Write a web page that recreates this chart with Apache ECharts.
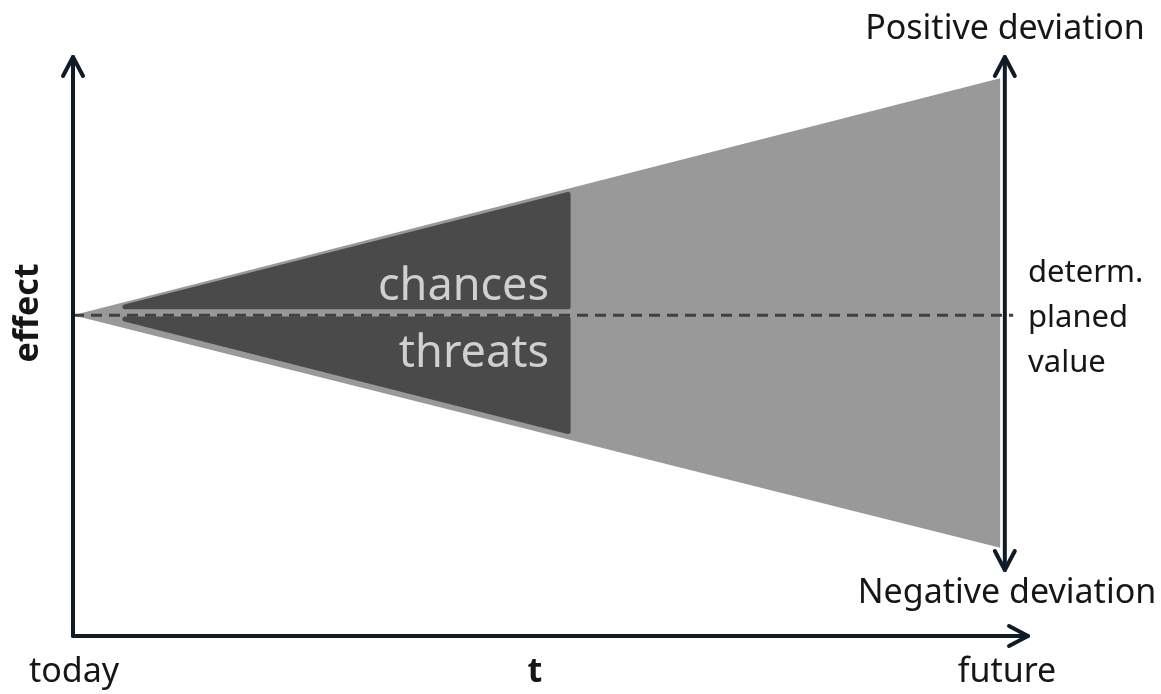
<!DOCTYPE html>
<html><head><meta charset="utf-8">
<script src="https://cdn.jsdelivr.net/npm/echarts@6/dist/echarts.min.js"></script>
<style>html,body{margin:0;padding:0;background:#fff}#c{width:1161px;height:694px}</style>
</head><body><div id="c"></div><script>
// axis ranges (t = time, effect)
const tRange = [0, 10.3];
const effectRange = [-13.66, 11];
// shapes [t, effect]
const coneShape = [[0, 0], [10, 10.1], [10, -9.9]];
const chancesShape = [[0.56, 0.36], [5.34, 5.15], [5.34, 0.36]];
const threatsShape = [[0.56, -0.16], [5.34, -0.16], [5.34, -4.95]];
const planLine = [[0, 0], [10.14, 0]];
// arrows: [t1, e1, t2, e2, headAtStart, headAtEnd]
const arrows = [
  [0, -13.66, 0, 11, 0, 1],
  [0, -13.66, 10.3, -13.66, 0, 1],
  [10.05, -10.85, 10.05, 11, 1, 1]
];
const shapeLabels = ['chances', 'threats'];
const sideLabels = ['determ.', 'planed', 'value'];
const xLabels = ['today', 't', 'future'];
const yLabel = 'effect';
const deviationLabels = ['Positive deviation', 'Negative deviation'];

const chart = echarts.init(document.getElementById('c'), null, {renderer: 'canvas'});
const shapes = [
  {pts: coneShape, color: '#999999', stroke: 0},
  {pts: chancesShape, color: '#4a4a4a', stroke: 5},
  {pts: threatsShape, color: '#4a4a4a', stroke: 5}
];
const axisColor = '#0f1b26';
const font = '"Noto Sans", "Open Sans", sans-serif';
const txt = '#161616';

chart.setOption({
  animation: false,
  grid: {left: 73, right: 1161 - 1028, top: 57, bottom: 58},
  xAxis: {type: 'value', min: tRange[0], max: tRange[1], show: false},
  yAxis: {type: 'value', min: effectRange[0], max: effectRange[1], show: false},
  series: [
    {
      type: 'custom', z: 1,
      data: shapes.map((s, i) => [i]),
      renderItem: function (params, api) {
        const s = shapes[params.dataIndex];
        const pts = s.pts.map(p => api.coord(p));
        return {
          type: 'polygon',
          shape: {points: pts},
          style: {fill: s.color, stroke: s.stroke ? s.color : null, lineWidth: s.stroke, lineJoin: 'round'}
        };
      }
    },
    {
      type: 'line', z: 3, symbol: 'none', data: planLine,
      lineStyle: {color: '#404040', width: 2.8, type: [11, 7]}
    },
    {
      type: 'custom', z: 4,
      data: arrows,
      renderItem: function (params, api) {
        const a = arrows[params.dataIndex];
        const p1 = api.coord([a[0], a[1]]);
        const p2 = api.coord([a[2], a[3]]);
        const dx = p2[0] - p1[0], dy = p2[1] - p1[1];
        const L = Math.hypot(dx, dy);
        const ux = dx / L, uy = dy / L, nx = -uy, ny = ux;
        const len = 19, w = 10;
        const st = {stroke: axisColor, lineWidth: 4, lineCap: 'round', lineJoin: 'round', fill: null};
        const children = [{type: 'line', shape: {x1: p1[0], y1: p1[1], x2: p2[0], y2: p2[1]}, style: st}];
        function head(tip, sx, sy) {
          children.push({type: 'polyline', shape: {points: [
            [tip[0] - sx * len + nx * w, tip[1] - sy * len + ny * w],
            tip,
            [tip[0] - sx * len - nx * w, tip[1] - sy * len - ny * w]
          ]}, style: st});
        }
        if (a[5]) head(p2, ux, uy);
        if (a[4]) head(p1, -ux, -uy);
        return {type: 'group', children: children};
      }
    }
  ],
  graphic: [
    {type: 'text', z: 10, style: {text: shapeLabels[0], x: 549, y: 287, align: 'right', verticalAlign: 'middle', font: '45px ' + font, fill: '#d0d0d0'}},
    {type: 'text', z: 10, style: {text: shapeLabels[1], x: 549, y: 354, align: 'right', verticalAlign: 'middle', font: '45px ' + font, fill: '#d0d0d0'}},
    {type: 'text', style: {text: deviationLabels[0], x: 1005, y: 29, align: 'center', verticalAlign: 'middle', font: '34px ' + font, fill: txt}},
    {type: 'text', style: {text: deviationLabels[1], x: 1007, y: 593, align: 'center', verticalAlign: 'middle', font: '34px ' + font, fill: txt}},
    {type: 'text', style: {text: sideLabels[0], x: 1028, y: 273, align: 'left', verticalAlign: 'middle', font: '31px ' + font, fill: txt}},
    {type: 'text', style: {text: sideLabels[1], x: 1028, y: 318, align: 'left', verticalAlign: 'middle', font: '31px ' + font, fill: txt}},
    {type: 'text', style: {text: sideLabels[2], x: 1028, y: 363, align: 'left', verticalAlign: 'middle', font: '31px ' + font, fill: txt}},
    {type: 'text', style: {text: xLabels[0], x: 74, y: 672, align: 'center', verticalAlign: 'middle', font: '34px ' + font, fill: txt}},
    {type: 'text', style: {text: xLabels[1], x: 535, y: 672, align: 'center', verticalAlign: 'middle', font: 'bold 34px ' + font, fill: txt}},
    {type: 'text', style: {text: xLabels[2], x: 1007, y: 672, align: 'center', verticalAlign: 'middle', font: '34px ' + font, fill: txt}},
    {type: 'text', x: 28, y: 313, rotation: Math.PI / 2, style: {text: yLabel, x: 0, y: 0, align: 'center', verticalAlign: 'middle', font: 'bold 34px ' + font, fill: txt}}
  ]
});
</script></body></html>
